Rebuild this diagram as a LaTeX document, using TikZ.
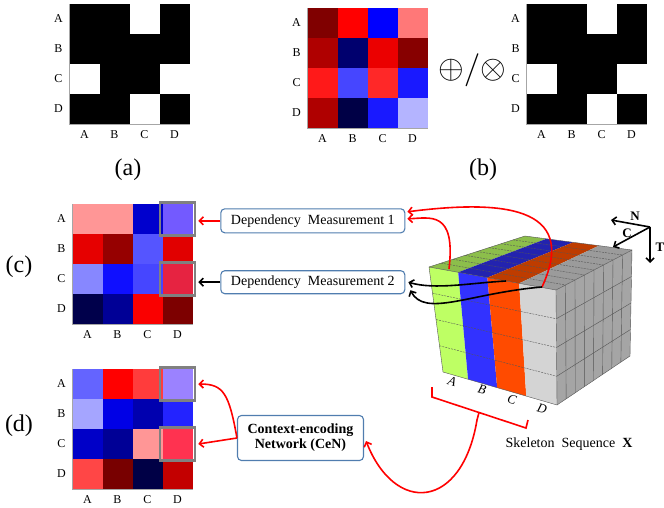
\documentclass[tikz,border=0pt]{standalone}
\usepackage{fontspec}
\setmainfont{Liberation Serif}
\usepackage{tikz}
\usetikzlibrary{calc, positioning, arrows.meta}

\definecolor{boxblue}{RGB}{80, 125, 175}
\definecolor{hlgray}{RGB}{128, 128, 128}
\definecolor{limeF}{RGB}{190, 255, 100}
\definecolor{limeT}{RGB}{140, 190, 75}
\definecolor{blueF}{RGB}{50, 50, 255}
\definecolor{blueT}{RGB}{35, 35, 175}
\definecolor{orgF}{RGB}{255, 75, 0}
\definecolor{orgT}{RGB}{190, 60, 0}
\definecolor{grayF}{RGB}{212, 212, 212}
\definecolor{grayT}{RGB}{155, 155, 155}
\definecolor{grayR}{RGB}{165, 165, 165}
\definecolor{gridcol}{RGB}{85, 85, 85}

\tikzset{
    textnode/.style = {draw=none, fill=none, rectangle, inner sep=0em, node distance=0em},
    axlabel/.style = {textnode, font=\fontsize{12}{14}\selectfont},
    panellabel/.style = {textnode, font=\fontsize{24}{28}\selectfont},
    roundnode/.style = {draw=boxblue, fill=white, rectangle, rounded corners=4pt, line width=1.1pt,
      inner sep=0em, node distance=0em, font=\fontsize{14}{15}\selectfont, align=center},
    hlbox/.style = {draw=hlgray, rectangle, line width=2.5pt, inner sep=0em,
      minimum width=35pt, minimum height=33pt},
    axisline/.style = {gray!70, line width=0.6pt},
    gridln/.style = {gridcol, line width=0.4pt},
    connect/.style = {black, -{Straight Barb[length=4pt,width=8pt]}, line width=1.6pt},
    redconnect/.style = {red, -{Straight Barb[length=4pt,width=8pt]}, line width=1.6pt},
    cubelabel/.style = {textnode, font=\fontsize{13}{15}\selectfont\itshape, rotate=-16},
    dirlabel/.style = {textnode, font=\fontsize{13}{15}\selectfont\bfseries}
}

\newcommand{\heatmap}[3]{%
    \foreach \hx [count=\k from 0] in {#3} {
        \pgfmathtruncatemacro{\mr}{div(\k,4)}
        \pgfmathtruncatemacro{\mc}{mod(\k,4)}
        \definecolor{cellfill}{HTML}{\hx}
        \fill[cellfill] (#1+30*\mc, #2+30*\mr) rectangle ++(30,30);
    }%
}
\newcommand{\matlabels}[3]{%
    \foreach \lab [count=\i from 0] in {A,B,C,D} {
        \node[axlabel, name=#1-r\i] at (#2-11, #3+15+30*\i) {\lab};
        \node[axlabel, name=#1-c\i] at (#2+15+30*\i, #3+131) {\lab};
    }
    \draw[axisline] (#2,#3) -- (#2,#3+120) -- (#2+120,#3+120);
}

\begin{document}
\begin{tikzpicture}[x=1pt, y=-1pt, node distance=0em]
    \useasboundingbox (0,0) rectangle (664,507);

    \foreach \mr/\mc in {0/0,0/1,0/3,1/0,1/1,1/2,1/3,2/1,2/2,3/0,3/1,3/3}
        \fill[black] (69.5+30*\mc, 4+30*\mr) rectangle ++(30,30);
    \matlabels{a}{69.5}{4}
    \node[panellabel, name=LabA] at (128,170) {(a)};

    \heatmap{307.5}{8}{800000,FF0000,0000FF,FF7878,AF0000,00006E,EB0000,870000,
        FF1919,4646FF,FF2828,1919FF,AF0000,000046,1919FF,B4B4FF}
    \matlabels{bl}{307.5}{8}
    \node[textnode, name=Ops] at (472,70) {\scalebox{3.3}{$\oplus/\otimes$}};
    \foreach \mr/\mc in {0/0,0/1,0/3,1/0,1/1,1/2,1/3,2/1,2/2,3/0,3/1,3/3}
        \fill[black] (526.5+30*\mc, 4+30*\mr) rectangle ++(30,30);
    \matlabels{br}{526.5}{4}
    \node[panellabel, name=LabB] at (483,170) {(b)};

    \heatmap{72.5}{204}{FF9696,FF9696,0000CD,735AFF,E60000,960000,5555FF,E10000,
        8787FF,0F0FFF,4646FF,E62341,00004B,000096,FA0000,7D0000}
    \matlabels{c}{72.5}{204}
    \node[hlbox, name=HlC1] at (177.5,219) {};
    \node[hlbox, name=HlC2] at (177.5,279) {};
    \node[panellabel, name=LabC] at (19,267) {(c)};

    \heatmap{72.5}{369}{6464FF,FF0000,FF3C3C,9B82FF,A5A5FF,0000E6,0000AF,2323FF,
        0000C8,000096,FF9696,FF3250,FF4646,780000,000046,C30000}
    \matlabels{d}{72.5}{369}
    \node[hlbox, name=HlD1] at (177.5,384) {};
    \node[hlbox, name=HlD2] at (177.5,444) {};
    \node[panellabel, name=LabD] at (19,426) {(d)};

    \node[roundnode, name=Dep1, minimum width=184pt, minimum height=24pt] at (312.8,220.8) {Dependency~~Measurement 1};
    \node[roundnode, name=Dep2, below of=Dep1, yshift=-61.4pt, minimum width=184pt, minimum height=23pt] {Dependency~~Measurement 2};
    \node[roundnode, name=CeN, minimum width=126pt, minimum height=45pt, font=\fontsize{14}{15}\selectfont\bfseries] at (300.5,438) {Context-encoding\\Network (CeN)};

    \draw[redconnect] (Dep1.west) -- ($(Dep1.west -| HlC1.east)+(2,0)$);
    \draw[connect] (Dep2.west) -- ($(Dep2.west -| HlC2.east)+(2,0)$);
    \draw[redconnect] (CeN.west) .. controls +(-8,-45) and +(25,0) .. ([xshift=2pt]HlD1.east);
    \draw[redconnect] (CeN.west) -- ([xshift=2pt]HlD2.east);

    % skeleton cube
    \coordinate (fTL) at (429,267);
    \coordinate (fTR) at (556,290);
    \coordinate (fBR) at (557,405);
    \coordinate (fBL) at (443,372);
    \coordinate (tBL) at (525,236);
    \coordinate (tBR) at (632,250);
    \coordinate (rBR) at (630,356);

    \fill[grayR] (fTR) -- (tBR) -- (rBR) -- (fBR) -- cycle;
    \foreach \ta/\tb/\ba/\bb/\ka/\kb/\fcol/\tcol in {0/.23/0/.22/0/.2/limeF/limeT,
        .23/.46/.22/.475/.2/.45/blueF/blueT, .46/.71/.475/.73/.45/.69/orgF/orgT,
        .71/1/.73/1/.69/1/grayF/grayT} {
        \fill[\fcol] ($(fTL)!\ta!(fTR)$) -- ($(fTL)!\tb!(fTR)$) -- ($(fBL)!\bb!(fBR)$) -- ($(fBL)!\ba!(fBR)$) -- cycle;
        \fill[\tcol] ($(fTL)!\ta!(fTR)$) -- ($(fTL)!\tb!(fTR)$) -- ($(tBL)!\kb!(tBR)$) -- ($(tBL)!\ka!(tBR)$) -- cycle;
    }
    \foreach \f in {0.25,0.5,0.75} {
        \draw[gridln, dash pattern=on 2pt off 1pt] ($(fTL)!\f!(fBL)$) -- ($(fTR)!\f!(fBR)$);
        \draw[gridln] ($(fTR)!\f!(fBR)$) -- ($(tBR)!\f!(rBR)$);
    }
    \foreach \f in {0.125,0.25,0.375,0.5,0.625,0.75,0.875} {
        \draw[gridln, dash pattern=on 2pt off 1pt] ($(fTL)!\f!(tBL)$) -- ($(fTR)!\f!(tBR)$);
        \draw[gridln] ($(fTR)!\f!(tBR)$) -- ($(fBR)!\f!(rBR)$);
    }
    \draw[gridln] (fTL) -- (fTR) -- (fBR) -- (fBL) -- cycle;
    \draw[gridln] (fTR) -- (tBR) -- (rBR) -- (fBR);
    \draw[gridln] (fTL) -- (tBL) -- (tBR);

    \node[cubelabel, name=JA] at (452,381) {A};
    \node[cubelabel, name=JB] at (482,390) {B};
    \node[cubelabel, name=JC] at (512,400) {C};
    \node[cubelabel, name=JD] at (542,409) {D};
    \node[textnode, name=Seq, font=\fontsize{14}{16}\selectfont] at (569,444) {Skeleton~~Sequence~~\textbf{X}};

    \coordinate (DirO) at (650,227);
    \coordinate (DirN) at (611,220);
    \coordinate (DirC) at (613,247);
    \coordinate (DirT) at (650,263);
    \draw[connect] (DirO) -- (DirN);
    \draw[connect] (DirO) -- (DirC);
    \draw[connect] (DirO) -- (DirT);
    \node[dirlabel, name=LabN] at (635,216) {N};
    \node[dirlabel, name=LabCh] at (627,233) {C};
    \node[dirlabel, name=LabT] at (660,247) {T};

    \coordinate (StA) at (449,269);
    \coordinate (StD) at (542,287);
    \coordinate (StC) at (506,281);
    \draw[redconnect] (StA) .. controls (456,210) and (430,218) .. ([xshift=2pt,yshift=2pt]Dep1.east);
    \draw[redconnect] (StD) .. controls (580,205) and (500,200) .. ([xshift=2pt,yshift=9pt]Dep1.east);
    \draw[connect] (StC) .. controls (470,283) and (435,290) .. ([xshift=3pt]Dep2.east);
    \draw[connect] (StD) .. controls (470,293) and (425,318) .. ([xshift=5pt,yshift=-8pt]Dep2.east);

    \coordinate (BrL1) at (432,387);
    \coordinate (BrL2) at (432,397);
    \coordinate (BrR2) at (526,428);
    \coordinate (BrR1) at (528,420);
    \coordinate (BrM) at ($(BrL2)!0.5!(BrR2)$);
    \coordinate (BrS) at (477,420);
    \draw[red, line width=1.6pt] (BrL1) -- (BrL2) -- (BrR2) -- (BrR1);
    \draw[red, line width=1.6pt] (BrM) -- (BrS);
    \draw[redconnect] (BrS) .. controls (462,510) and (395,515) .. ([xshift=2pt,yshift=-3pt]CeN.east);
\end{tikzpicture}
\end{document}
